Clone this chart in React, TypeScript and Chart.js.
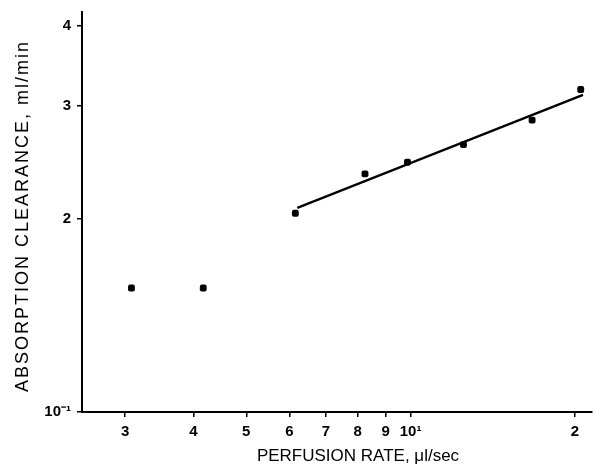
import React, { useEffect, useRef } from "react";
import { Chart, registerables } from "chart.js";

Chart.register(...registerables);

// Data (log-log plot)
const perfusionRates = [3.08, 4.17, 6.15, 8.25, 9.87, 12.5, 16.7, 20.5];
const clearances = [1.56, 1.56, 2.04, 2.35, 2.45, 2.61, 2.85, 3.18];
const fitRates = [6.2, 20.7];
const fitClearances = [2.08, 3.12];

const xTicks = [3, 4, 5, 6, 7, 8, 9, 10, 20];
const xTickLabels = ["3", "4", "5", "6", "7", "8", "9", "10\u00B9", "2"];
const yTicks = [1, 2, 3, 4];
const yTickLabels = ["10\u207B\u00B9", "2", "3", "4"];

const xTitle = "PERFUSION RATE, \u03BCl/sec";
const yTitle = "ABSORPTION CLEARANCE, ml/min";

const FONT = "'Liberation Sans', Arial, Helvetica, sans-serif";

const axisTitles = {
  id: "axisTitles",
  afterDraw(chart: any) {
    const ctx = chart.ctx as CanvasRenderingContext2D;
    const { left, right, bottom } = chart.chartArea;
    ctx.save();
    ctx.fillStyle = "#000";
    ctx.font = `17px ${FONT}`;
    ctx.textAlign = "center";
    ctx.textBaseline = "alphabetic";
    ctx.fillText(xTitle, (left + right) / 2 + 21, bottom + 49);
    ctx.translate(left - 54, bottom - 20);
    ctx.rotate(-Math.PI / 2);
    ctx.textAlign = "left";
    ctx.font = `18px ${FONT}`;
    (ctx as any).letterSpacing = "2px";
    ctx.fillText(yTitle, 0, 0);
    ctx.restore();
  },
};

export default function App() {
  const ref = useRef<HTMLCanvasElement | null>(null);

  useEffect(() => {
    if (!ref.current) return;
    const points = perfusionRates.map((x, i) => ({ x, y: clearances[i] }));
    const fit = fitRates.map((x, i) => ({ x, y: fitClearances[i] }));
    const tickFont = { family: FONT, size: 15, weight: "bold" as const };

    const chart = new Chart(ref.current, {
      type: "scatter",
      data: {
        datasets: [
          {
            label: "fit",
            data: fit,
            showLine: true,
            borderColor: "#000",
            borderWidth: 2.2,
            pointRadius: 0,
            fill: false,
          },
          {
            label: "measured",
            data: points,
            pointStyle: "rectRounded",
            pointRadius: 4,
            backgroundColor: "#000",
            borderColor: "#000",
            borderWidth: 0,
          },
        ],
      },
      options: {
        animation: false,
        responsive: false,
        layout: { padding: { top: 12, right: 0, left: 0, bottom: 0 } },
        plugins: { legend: { display: false }, tooltip: { enabled: false } },
        scales: {
          x: {
            type: "logarithmic",
            min: 2.5,
            max: 21.5,
            afterFit: (s: any) => {
              s.height = 52;
              s.paddingLeft = 0;
              s.paddingRight = 0;
            },
            afterBuildTicks: (s: any) => {
              s.ticks = xTicks.map((v) => ({ value: v }));
            },
            grid: {
              display: true,
              drawOnChartArea: false,
              drawTicks: true,
              tickLength: 5,
              color: "#000",
              lineWidth: 1.5,
            },
            border: { display: true, color: "#000", width: 2 },
            ticks: {
              autoSkip: false,
              maxRotation: 0,
              padding: 6,
              color: "#000",
              font: tickFont,
              callback: (_v: any, i: number) => xTickLabels[i],
            },
          },
          y: {
            type: "logarithmic",
            min: 1,
            max: 4.2,
            afterFit: (s: any) => {
              s.width = 82;
              s.paddingTop = 0;
              s.paddingBottom = 0;
            },
            afterBuildTicks: (s: any) => {
              s.ticks = yTicks.map((v) => ({ value: v }));
            },
            grid: {
              display: true,
              drawOnChartArea: false,
              drawTicks: true,
              tickLength: 5,
              color: "#000",
              lineWidth: 1.5,
            },
            border: { display: true, color: "#000", width: 2 },
            ticks: {
              autoSkip: false,
              padding: 6,
              color: "#000",
              font: tickFont,
              callback: (_v: any, i: number) => yTickLabels[i],
            },
          },
        },
      },
      plugins: [axisTitles],
    });
    return () => chart.destroy();
  }, []);

  return (
    <div
      style={{
        position: "fixed",
        left: 0,
        top: 0,
        width: 596,
        height: 464,
        background: "#fff",
      }}
    >
      <canvas ref={ref} width={596} height={464} style={{ display: "block" }} />
    </div>
  );
}
